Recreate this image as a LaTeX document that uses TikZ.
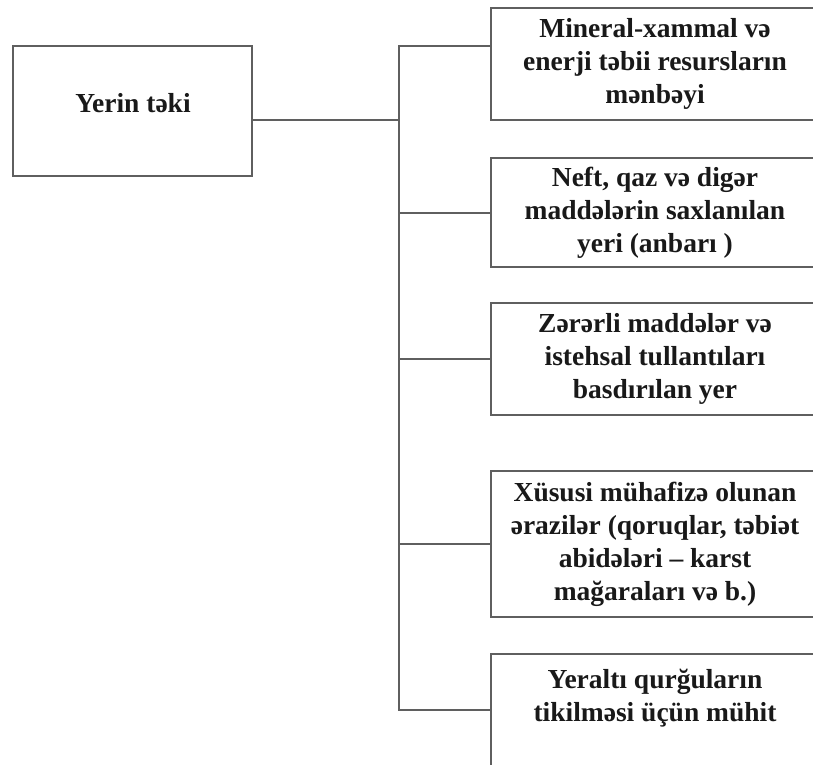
\documentclass[tikz,border=0pt]{standalone}
\usepackage{fontspec}
\setmainfont{Liberation Serif}
\definecolor{edgegray}{RGB}{95,95,95}
\definecolor{inkdark}{RGB}{25,25,25}
\tikzset{
  box/.style={draw=edgegray, line width=2pt, fill=white, inner sep=0pt, rectangle},
  conn/.style={draw=edgegray, line width=2pt, line join=miter},
  txt/.style={text=inkdark, align=center, inner sep=0pt,
    font=\bfseries\fontsize{27.5}{33}\selectfont},
}
\begin{document}
\begin{tikzpicture}[x=1pt, y=-1pt]
  \useasboundingbox (0,0) rectangle (813,764);

  % root box
  \node[box, minimum width=239pt, minimum height=130pt] (L) at (132.5,111) {};
  \node[txt, anchor=base] (tL) at (133,112) {Yerin təki};

  % branch boxes (right edges run just past the page)
  \node[box, minimum width=328pt, minimum height=112pt] (B1) at (655,64) {};
  \node[box, minimum width=328pt, minimum height=109pt] (B2) at (655,212.5) {};
  \node[box, minimum width=328pt, minimum height=112pt] (B3) at (655,359) {};
  \node[box, minimum width=328pt, minimum height=146pt] (B4) at (655,544) {};
  \node[box, minimum width=328pt, minimum height=112pt] (B5) at (655,710) {};

  \node[txt] (t1) at (B1.center) {Mineral-xammal və\\enerji təbii resursların\\mənbəyi};
  \node[txt] (t2) at (B2.center) {Neft, qaz və digər\\maddələrin saxlanılan\\yeri (anbarı )};
  \node[txt] (t3) at (B3.center) {Zərərli maddələr və\\istehsal tullantıları\\basdırılan yer};
  \node[txt] (t4) at (B4.center) {Xüsusi mühafizə olunan\\ərazilər (qoruqlar, təbiət\\abidələri – karst\\mağaraları və b.)};
  \node[txt] (t5) at ([yshift=12pt]B5.center) {Yeraltı qurğuların\\tikilməsi üçün mühit};

  % trunk and branches
  \coordinate (ttop) at (399,46);
  \coordinate (jL) at (399,120);
  \coordinate (tbot) at (B5.west -| ttop);
  \draw[conn] (L.east |- jL) -- (jL);
  \draw[conn] (B1.west |- ttop) -- (ttop) -- (tbot) -- (B5.west);
  \draw[conn] (B2.west -| ttop) -- (B2.west);
  \draw[conn] (B3.west -| ttop) -- (B3.west);
  \draw[conn] (B4.west -| ttop) -- (B4.west);
\end{tikzpicture}
\end{document}
